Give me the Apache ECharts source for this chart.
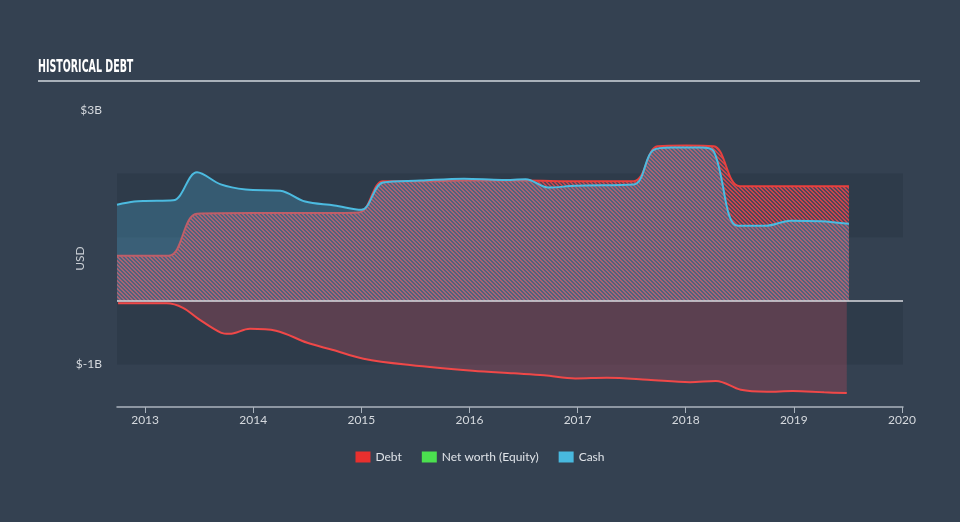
<!DOCTYPE html>
<html>
<head>
<meta charset="utf-8">
<script src="https://cdn.jsdelivr.net/npm/echarts@6/dist/echarts.min.js"></script>
<style>
html,body{margin:0;padding:0;background:#344151;}
#chart{width:960px;height:522px;}
</style>
</head>
<body>
<div id="chart"></div>
<script>
// ---- data (values in billions USD, x in decimal years) ----
const debtYears  = [2012.74, 2013.22, 2013.48, 2014.0, 2014.5, 2014.98, 2015.2, 2015.5, 2016.0, 2016.5, 2017.0, 2017.52, 2017.74, 2018.0, 2018.26, 2018.5, 2019.0, 2019.51];
const debtValues = [0.71, 0.71, 1.37, 1.38, 1.38, 1.39, 1.88, 1.88, 1.89, 1.89, 1.88, 1.88, 2.43, 2.44, 2.43, 1.80, 1.80, 1.80];

const cashYears  = [2012.74, 2012.9, 2013.0, 2013.26, 2013.48, 2013.7, 2013.93, 2014.25, 2014.48, 2014.75, 2015.0, 2015.2, 2015.55, 2015.95, 2016.3, 2016.52, 2016.73, 2016.98, 2017.52, 2017.7, 2017.87, 2018.14, 2018.26, 2018.48, 2018.74, 2018.97, 2019.25, 2019.51];
const cashValues = [1.51, 1.56, 1.57, 1.58, 2.02, 1.83, 1.75, 1.73, 1.56, 1.50, 1.43, 1.86, 1.89, 1.92, 1.90, 1.91, 1.78, 1.81, 1.83, 2.37, 2.41, 2.41, 2.35, 1.18, 1.18, 1.26, 1.25, 1.21];

const equityYears  = [2012.75, 2013.2, 2013.35, 2013.49, 2013.7, 2013.78, 2013.97, 2014.21, 2014.5, 2014.73, 2015.02, 2015.45, 2016.03, 2016.41, 2016.69, 2016.98, 2017.27, 2017.65, 2018.04, 2018.28, 2018.51, 2018.75, 2018.99, 2019.28, 2019.49];
const equityValues = [-0.04, -0.04, -0.11, -0.28, -0.50, -0.52, -0.44, -0.47, -0.66, -0.77, -0.91, -1.01, -1.10, -1.14, -1.17, -1.22, -1.21, -1.24, -1.28, -1.26, -1.40, -1.43, -1.42, -1.44, -1.45];

const xTickYears = [2013, 2014, 2015, 2016, 2017, 2018, 2019, 2020];
const yTickValues = [3, -1];
const seriesNames = ['Debt', 'Net worth (Equity)', 'Cash'];

function pairs(xs, ys){ return xs.map((x,i)=>[x, ys[i]]); }

// hatch pattern for debt area
const pat = document.createElement('canvas');
pat.width = 4; pat.height = 4;
const pc = pat.getContext('2d');
for (let y=0; y<4; y++){
  for (let x=0; x<4; x++){
    const d = (x - y + 8) % 4;
    pc.fillStyle = (d === 0 || d === 1) ? 'rgba(214,70,76,0.92)' : 'rgba(84,72,90,0.92)';
    pc.fillRect(x, y, 1, 1);
  }
}

const chart = echarts.init(document.getElementById('chart'), null, {renderer:'canvas'});
const labelFont = 'Lato';
chart.setOption({
  backgroundColor: '#344151',
  animation: false,
  graphic: [
    {
      type:'text', x:38, y:59, scaleX:0.62,
      style:{text:'HISTORICAL DEBT', fill:'#ffffff', fontFamily:'DejaVu Sans Condensed', fontWeight:'bold', fontSize:17}
    },
    {
      type:'line', shape:{x1:38, y1:81, x2:920, y2:81},
      style:{stroke:'#a9b1ba', lineWidth:2}
    }
  ],
  legend: {
    data: seriesNames,
    bottom: 54, left: 'center',
    icon: 'rect', itemWidth: 15, itemHeight: 11, itemGap: 20,
    textStyle: {color:'#dfe3e8', fontSize:12, fontFamily: labelFont}
  },
  grid: {left:117, right:57, top:110, bottom:115},
  xAxis: {
    type:'value', min:2012.74, max:2020.01,
    axisLine:{show:true, onZero:false, lineStyle:{color:'#aab3bd', width:1.5}},
    axisTick:{show:true, customValues: xTickYears, length:6, lineStyle:{color:'#aab3bd'}},
    axisLabel:{customValues: xTickYears, color:'#d5d9de', fontSize:12, fontFamily: labelFont, margin:7, formatter: v => String(Math.round(v))},
    splitLine:{show:false}
  },
  yAxis: {
    type:'value', min:-1.67, max:3,
    name:'USD', nameLocation:'middle', nameGap:31, nameRotate:90, nameMoveOverlap:false,
    nameTextStyle:{color:'#c9ced4', fontSize:12, fontFamily: labelFont},
    axisLine:{show:false}, axisTick:{show:false},
    axisLabel:{customValues: yTickValues, color:'#d5d9de', fontSize:12, fontFamily: labelFont, margin:15, formatter: v => '$' + v + 'B'},
    splitLine:{show:false}
  },
  series: [
    {
      name:'Debt', type:'line', data: pairs(debtYears, debtValues),
      smooth:0.35, symbol:'none', z:3,
      itemStyle:{color:'#e8302e'},
      lineStyle:{color:'#e8403e', width:2},
      areaStyle:{color:{image: pat, repeat:'repeat'}, opacity:1, origin:0},
      markArea:{
        silent:true,
        itemStyle:{color:'rgba(20,28,40,0.16)'},
        data:[ [{yAxis:2},{yAxis:1}], [{yAxis:0},{yAxis:-1}] ]
      }
    },
    {
      name:'Net worth (Equity)', type:'line', data: pairs(equityYears, equityValues),
      smooth:0.35, symbol:'none', z:3,
      itemStyle:{color:'#4be04f'},
      lineStyle:{color:'#f04848', width:2},
      areaStyle:{color:'rgba(156,71,87,0.42)', opacity:1, origin:0}
    },
    {
      name:'Cash', type:'line', data: pairs(cashYears, cashValues),
      smooth:0.35, symbol:'none', z:4,
      itemStyle:{color:'#48b9df'},
      lineStyle:{color:'#4cbbe0', width:2},
      areaStyle:{color:'rgba(79,179,220,0.27)', opacity:1, origin:0},
      markLine:{
        silent:true, symbol:'none', label:{show:false},
        lineStyle:{color:'#d8dadf', width:1.5, type:'solid'},
        data:[{yAxis:0}]
      }
    }
  ]
});
</script>
</body>
</html>
